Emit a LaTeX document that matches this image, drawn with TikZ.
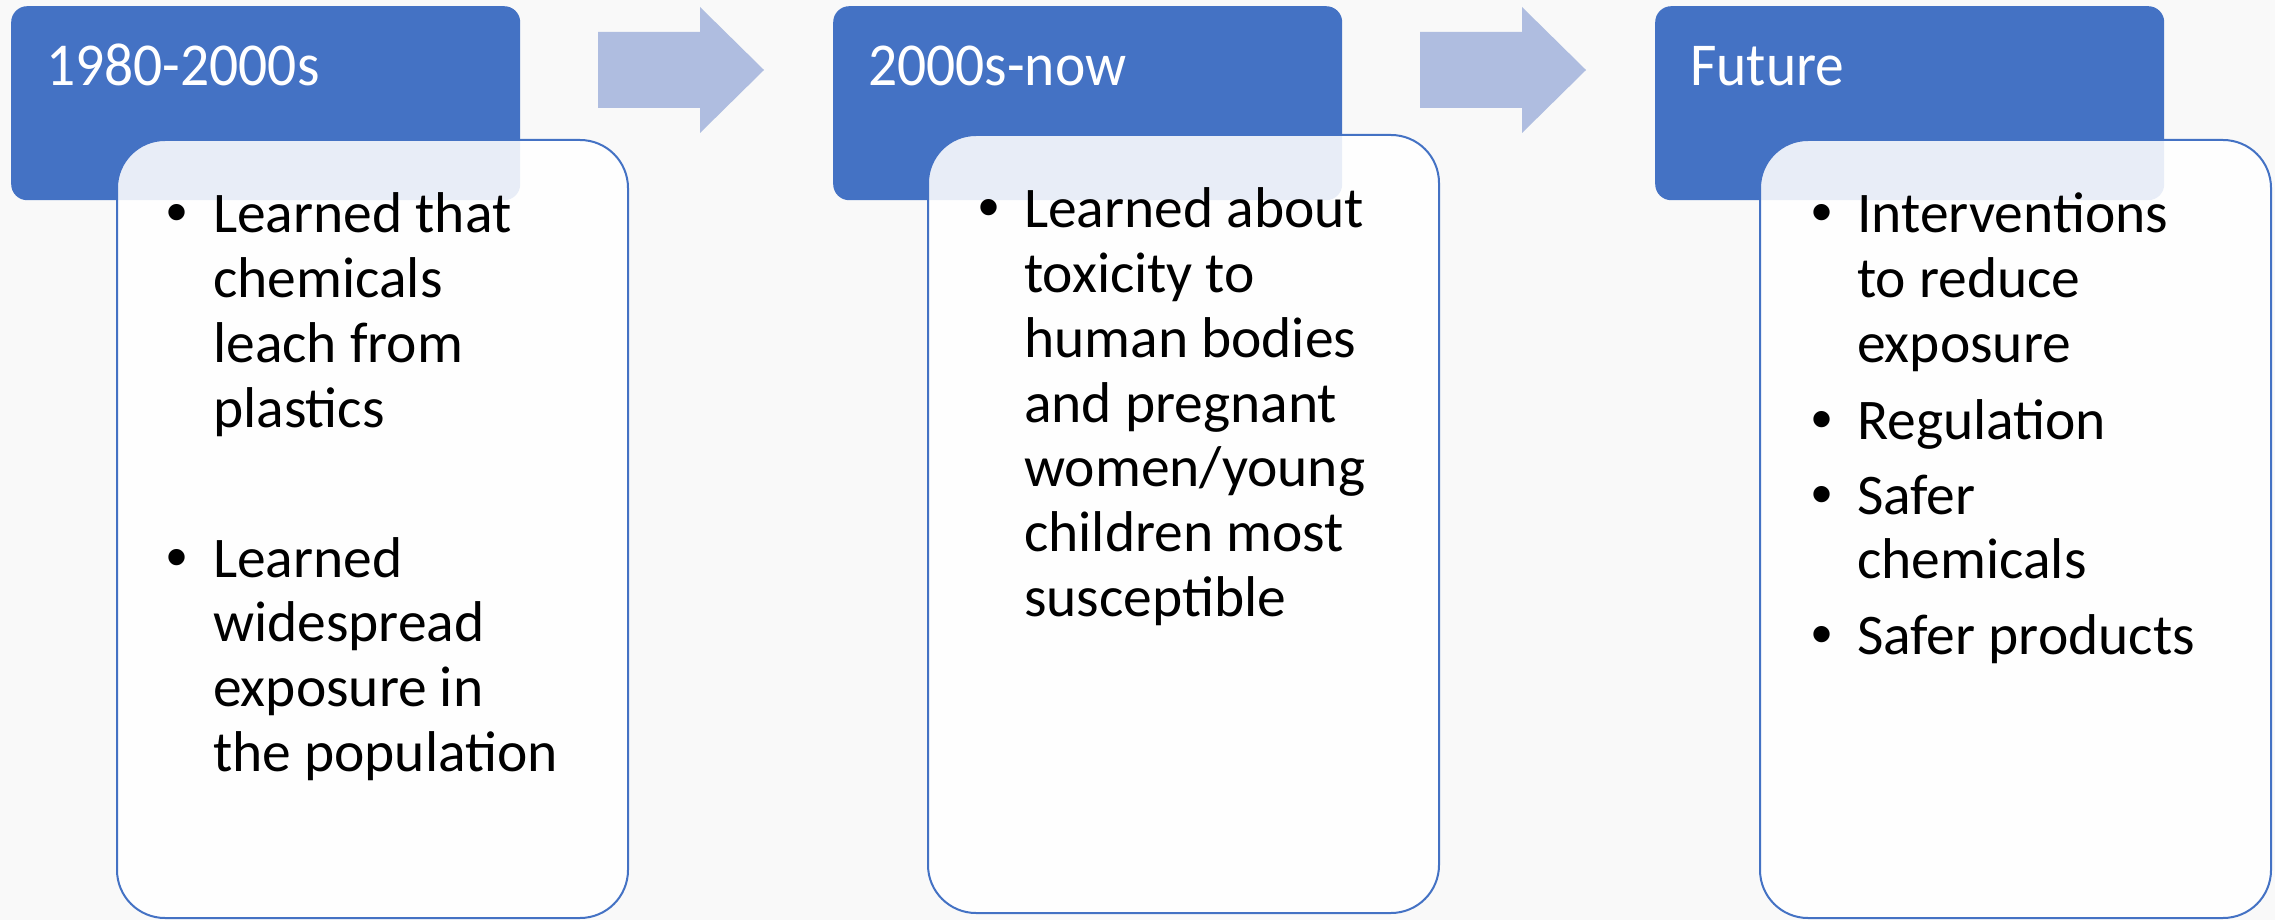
\documentclass[tikz,border=0pt]{standalone}
\usepackage{fontspec}
\usepackage{graphicx}
\setmainfont{Carlito}
\newfontfamily\bulletfont{Liberation Sans}
\definecolor{bgc}{HTML}{F9F9F9}
\definecolor{accent}{HTML}{4472C4}
\definecolor{arrowc}{HTML}{AFBDE0}
\tikzset{
  headbox/.style={fill=accent, draw=none, rounded corners=16pt, minimum width=509pt,
    minimum height=194pt, anchor=north west, inner sep=0pt},
  bodybox/.style={fill=white, fill opacity=0.88, draw=accent, line width=2pt,
    rounded corners=48pt, minimum width=511pt, anchor=north west, inner sep=0pt},
  titletext/.style={anchor=base west, inner sep=0pt, text=white,
    font=\fontsize{57.5}{64.7}\selectfont},
  bodytext/.style={anchor=base west, inner sep=0pt, text=black,
    font=\fontsize{57.5}{64.7}\selectfont},
  bulletmark/.style={anchor=base, inner sep=0pt, text=black,
    font=\bulletfont\fontsize{60}{64.7}\selectfont},
  blockarrow/.style={fill=arrowc, draw=none}
}
\newcommand{\lines}[1]{\begin{tabular}[t]{@{}l@{}}#1\end{tabular}}
\newcommand{\ttl}[1]{\scalebox{1}[1.06]{#1}}
\begin{document}
\begin{tikzpicture}[x=1pt,y=-1pt]
\useasboundingbox (0,0) rectangle (2275,920);
\fill[bgc] (0,0) rectangle (2275,920);

% header boxes
\node[headbox] (h1) at (11,6) {};
\node[headbox] (h2) at (833,6) {};
\node[headbox] (h3) at (1655,6) {};

% block arrows
\fill[blockarrow] (598,32) -- (700,32) -- (700,7) -- (764,70) -- (700,133) -- (700,108) -- (598,108) -- cycle;
\fill[blockarrow] (1420,32) -- (1522,32) -- (1522,7) -- (1586,70) -- (1522,133) -- (1522,108) -- (1420,108) -- cycle;

% body boxes
\node[bodybox, minimum height=778pt] (w1) at (116,139) {};
\node[bodybox, minimum height=778pt] (w2) at (927,134) {};
\node[bodybox, minimum height=778pt] (w3) at (1759,139) {};

% titles
\node[titletext] (t1) at (46,86) {\ttl{1980-2000s}};
\node[titletext] (t2) at (868,86) {\ttl{2000s-now}};
\node[titletext] (t3) at (1690,86) {\ttl{Future}};

% box 1
\node[bulletmark] (d1a) at (177,233) {•};
\node[bodytext] (b1a) at (213,233) {\lines{Learned that\\chemicals\\leach from\\plastics}};
\node[bulletmark] (d1b) at (177,577) {•};
\node[bodytext] (b1b) at (213,577) {\lines{Learned\\widespread\\exposure in\\the population}};

% box 2
\node[bulletmark] (d2a) at (989,228) {•};
\node[bodytext] (b2a) at (1024,228) {\lines{Learned about\\toxicity to\\human bodies\\and pregnant\\women/young\\children most\\susceptible}};

% box 3
\node[bulletmark] (d3a) at (1822,233) {•};
\node[bodytext] (b3a) at (1857,233) {\lines{Interventions\\to reduce\\exposure}};
\node[bulletmark] (d3b) at (1822,439) {•};
\node[bodytext] (b3b) at (1857,439) {Regulation};
\node[bulletmark] (d3c) at (1822,514) {•};
\node[bodytext] (b3c) at (1857,514) {\lines{Safer\\chemicals}};
\node[bulletmark] (d3d) at (1822,654) {•};
\node[bodytext] (b3d) at (1857,654) {Safer products};
\end{tikzpicture}
\end{document}
